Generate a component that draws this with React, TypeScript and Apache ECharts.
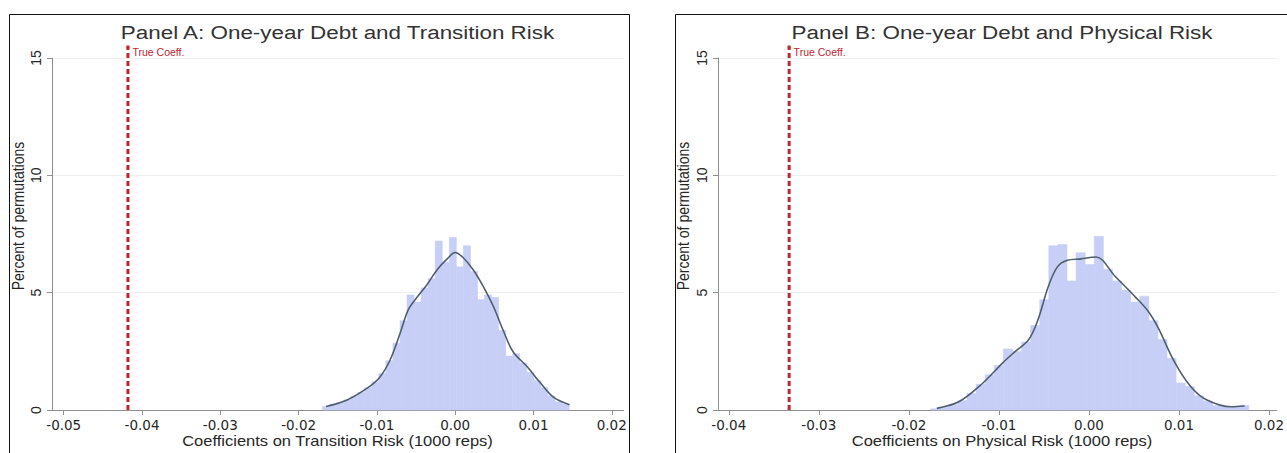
import React, { useEffect, useRef } from "react";
import * as echarts from "echarts";

// ---------- data ----------
const titleA = "Panel A: One-year Debt and Transition Risk";
const titleB = "Panel B: One-year Debt and Physical Risk";
const xTitleA = "Coefficients on Transition Risk (1000 reps)";
const xTitleB = "Coefficients on Physical Risk (1000 reps)";
const yTitle = "Percent of permutations";
const refLabel = "True Coeff.";

const xTicksA = [-0.05, -0.04, -0.03, -0.02, -0.01, 0, 0.01, 0.02];
const xTicksB = [-0.04, -0.03, -0.02, -0.01, 0, 0.01, 0.02];
const yTicks = [0, 5, 10, 15];

const trueCoeffA = -0.0418;
const trueCoeffB = -0.0333;
const refLineTop = 15.47;

// histogram A: bins of equal width starting at histStartA
const histStartA = -0.01695;
const histWidthA = 0.0009;
const histA = [
  0.15, 0.25, 0.32, 0.43, 0.58, 0.75, 0.95, 1.2, 1.55, 2.1, 2.85, 3.8, 4.9, 4.6,
  5.2, 5.6, 7.2, 6.3, 7.35, 6.1, 7.0, 5.9, 4.7, 4.9, 4.8, 3.4, 2.3, 2.4, 2.0,
  1.6, 1.25, 0.95, 0.6, 0.35, 0.25,
];

// histogram B
const histStartB = -0.017585;
const histWidthB = 0.00101;
const histB = [
  0.05, 0.12, 0.22, 0.4, 0.7, 1.1, 1.5, 1.9, 2.6, 2.5, 2.9, 3.6, 4.7, 7.0, 7.05,
  5.5, 6.7, 6.2, 7.4, 6.0, 5.5, 5.1, 4.6, 4.85, 3.8, 3.0, 2.2, 1.15, 1.0, 0.6,
  0.38, 0.2, 0.15, 0.15, 0.2,
];

// kernel density curves
const kdeAx = [
  -0.0165, -0.0138, -0.0112, -0.0096, -0.0083, -0.007, -0.006, -0.0049, -0.0036,
  -0.0023, -0.001, 0.0, 0.001, 0.0023, 0.0036, 0.0049, 0.0061, 0.0074, 0.0092,
  0.0109, 0.0125, 0.0146,
];
const kdeAy = [
  0.15, 0.43, 0.94, 1.41, 2.14, 3.3, 4.27, 4.79, 5.34, 5.98, 6.45, 6.71, 6.5,
  5.98, 5.26, 4.4, 3.42, 2.48, 1.84, 1.15, 0.56, 0.22,
];
const kdeBx = [
  -0.0169, -0.0144, -0.0118, -0.0096, -0.0082, -0.0067, -0.0057, -0.0045,
  -0.0035, -0.0024, -0.0009, 0.0008, 0.0029, 0.0052, 0.0066, 0.0077, 0.0095,
  0.0113, 0.013, 0.0158, 0.0173,
];
const kdeBy = [
  0.07, 0.36, 1.14, 2.0, 2.49, 2.99, 3.8, 5.27, 6.1, 6.38, 6.44, 6.52, 5.7, 4.8,
  4.2, 3.5, 2.05, 1.0, 0.45, 0.14, 0.17,
];

// ---------- styles ----------
const barColor = "#c8cff6";
const kdeColor = "#4f5e6d";
const refColor = "#c0262f";
const axisColor = "#8f8f8f";
const textColor = "#262626";

function histData(start: number, width: number, heights: number[]) {
  return heights.map((h, i) => [start + i * width, start + (i + 1) * width, h]);
}

const renderBar = (params: any, api: any) => {
  const x0 = api.value(0);
  const x1 = api.value(1);
  const h = api.value(2);
  const p0 = api.coord([x0, 0]);
  const p1 = api.coord([x1, h]);
  return {
    type: "rect",
    shape: { x: p0[0], y: p1[1], width: p1[0] - p0[0], height: p0[1] - p1[1] },
    style: { fill: barColor, stroke: barColor, lineWidth: 0.6 },
  };
};

function xAxisFor(idx: number, min: number, max: number, ticks: number[]) {
  return {
    type: "value",
    gridIndex: idx,
    min,
    max,
    axisLine: { show: true, onZero: false, lineStyle: { color: axisColor, width: 1 } },
    axisTick: { show: true, length: 5, customValues: ticks, lineStyle: { color: axisColor } },
    axisLabel: {
      customValues: ticks,
      formatter: (v: number) => v.toFixed(2),
      fontFamily: "DejaVu Sans",
      fontSize: 13.5,
      color: textColor,
      margin: 8,
    },
    splitLine: { show: false },
  };
}

function yAxisFor(idx: number) {
  return {
    type: "value",
    gridIndex: idx,
    min: yTicks[0],
    max: yTicks[yTicks.length - 1],
    interval: yTicks[1] - yTicks[0],
    axisLine: { show: true, onZero: false, lineStyle: { color: axisColor, width: 1 } },
    axisTick: { show: true, length: 5, lineStyle: { color: axisColor } },
    axisLabel: {
      rotate: 90,
      fontFamily: "Liberation Sans",
      fontSize: 14,
      color: textColor,
      margin: 9,
    },
    splitLine: { show: true, lineStyle: { color: "#eceef2", width: 1 } },
  };
}

function refSeries(idx: number, x: number) {
  return {
    type: "line",
    xAxisIndex: idx,
    yAxisIndex: idx,
    clip: false,
    z: 6,
    data: [
      { value: [x, 0], symbol: "none" },
      {
        value: [x, refLineTop],
        symbol: "rect",
        symbolSize: 3,
        label: {
          show: true,
          position: "right",
          distance: 3,
          offset: [0, 5],
          formatter: refLabel,
          fontFamily: "Liberation Sans",
          fontSize: 10.5,
          color: refColor,
        },
      },
    ],
    lineStyle: { color: refColor, width: 3, type: [5, 3] },
    itemStyle: { color: refColor },
  };
}

function kdeSeries(idx: number, xs: number[], ys: number[]) {
  return {
    type: "line",
    xAxisIndex: idx,
    yAxisIndex: idx,
    data: xs.map((x, i) => [x, ys[i]]),
    smooth: 0.35,
    symbol: "none",
    z: 5,
    lineStyle: { color: kdeColor, width: 1.6 },
  };
}

function histSeries(idx: number, data: number[][]) {
  return {
    type: "custom",
    xAxisIndex: idx,
    yAxisIndex: idx,
    renderItem: renderBar,
    encode: { x: [0, 1], y: 2 },
    data,
    z: 2,
  };
}

export default function App() {
  const ref = useRef<HTMLDivElement>(null);
  useEffect(() => {
    if (!ref.current) return;
    const chart = echarts.init(ref.current, undefined, { renderer: "svg" });
    const grids = [
      { left: 52, top: 58, width: 571.5, height: 352 },
      { left: 718, top: 58, width: 568.4, height: 352 },
    ];
    chart.setOption({
      animation: false,
      backgroundColor: "#ffffff",
      grid: grids,
      xAxis: [
        xAxisFor(0, -0.0515, 0.0215, xTicksA),
        xAxisFor(1, -0.0412, 0.02087, xTicksB),
      ],
      yAxis: [yAxisFor(0), yAxisFor(1)],
      series: [
        histSeries(0, histData(histStartA, histWidthA, histA)),
        kdeSeries(0, kdeAx, kdeAy),
        refSeries(0, trueCoeffA),
        histSeries(1, histData(histStartB, histWidthB, histB)),
        kdeSeries(1, kdeBx, kdeBy),
        refSeries(1, trueCoeffB),
      ],
      graphic: [
        {
          type: "rect",
          shape: { x: 9.5, y: 14.5, width: 620, height: 460 },
          style: { fill: "none", stroke: "#111", lineWidth: 1 },
          silent: true,
        },
        {
          type: "rect",
          shape: { x: 675.5, y: 14.5, width: 700, height: 460 },
          style: { fill: "none", stroke: "#111", lineWidth: 1 },
          silent: true,
        },
        {
          type: "text",
          x: 337.5,
          y: 32,
          scaleX: 1.18,
          style: {
            text: titleA,
            font: '19px "Liberation Sans"',
            fill: "#333333",
            align: "center",
            verticalAlign: "middle",
          },
        },
        {
          type: "text",
          x: 1002,
          y: 32,
          scaleX: 1.18,
          style: {
            text: titleB,
            font: '19px "Liberation Sans"',
            fill: "#333333",
            align: "center",
            verticalAlign: "middle",
          },
        },
        {
          type: "text",
          x: 337.5,
          y: 441,
          scaleX: 1.18,
          style: {
            text: xTitleA,
            font: '14px "Liberation Sans"',
            fill: textColor,
            align: "center",
            verticalAlign: "middle",
          },
        },
        {
          type: "text",
          x: 1002,
          y: 441,
          scaleX: 1.18,
          style: {
            text: xTitleB,
            font: '14px "Liberation Sans"',
            fill: textColor,
            align: "center",
            verticalAlign: "middle",
          },
        },
        {
          type: "text",
          x: 18,
          y: 216,
          rotation: Math.PI / 2,
          scaleY: 1.18,
          style: {
            text: yTitle,
            font: '14px "Liberation Sans"',
            fill: textColor,
            align: "center",
            verticalAlign: "middle",
          },
        },
        {
          type: "text",
          x: 683,
          y: 216,
          rotation: Math.PI / 2,
          scaleY: 1.18,
          style: {
            text: yTitle,
            font: '14px "Liberation Sans"',
            fill: textColor,
            align: "center",
            verticalAlign: "middle",
          },
        },
      ],
    });
    return () => chart.dispose();
  }, []);
  return (
    <div
      ref={ref}
      style={{ position: "absolute", left: 0, top: 0, width: 1287, height: 453 }}
    />
  );
}
